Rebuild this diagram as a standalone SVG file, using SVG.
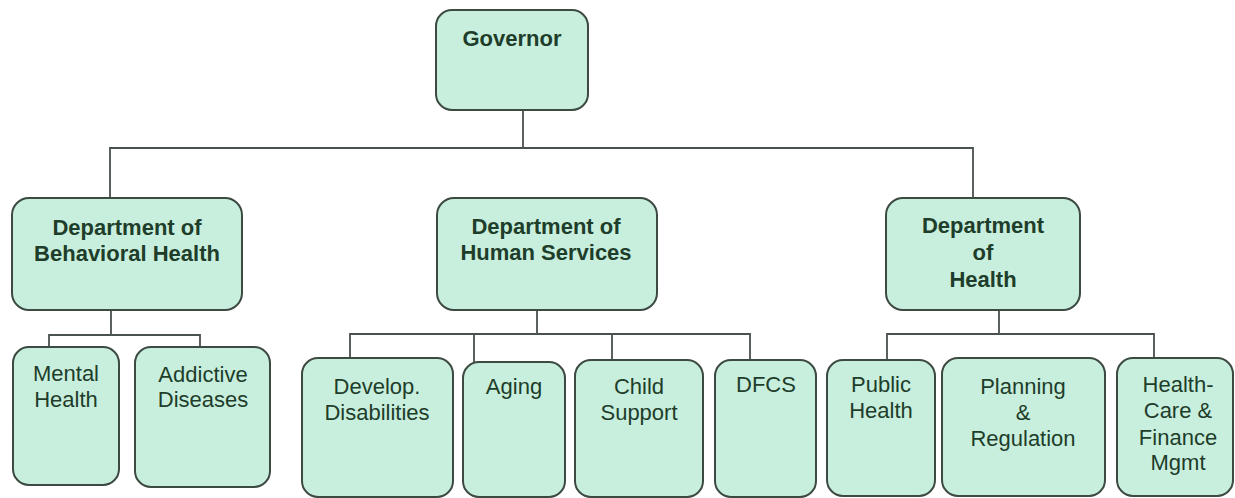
<svg xmlns="http://www.w3.org/2000/svg" width="1235" height="498" viewBox="0 0 1235 498">
<style>
.box{fill:#c8efdd;stroke:#3c4a42;stroke-width:2}
.ln{fill:none;stroke:#4a524d;stroke-width:1.8}
text{font-family:"Liberation Sans",Arial,sans-serif;font-size:22px;fill:#1e3d2a;text-anchor:middle}
.b{font-weight:bold}
</style>
<rect width="1235" height="498" fill="#ffffff"/>
<g id="connectors">
<path class="ln" d="M523,110 V148 M110,198 V148 H973 V198"/>
<path class="ln" d="M111,310 V335 M49,347 V335 H200 V347"/>
<path class="ln" d="M537,310 V334 M350,358 V334 H750 V360 M474,334 V362 M612,334 V360"/>
<path class="ln" d="M999,310 V334 M887,360 V334 H1154 V358"/>
</g>
<g id="governor"><rect class="box" x="436" y="10" width="152" height="100" rx="16"/><text class="b" x="512" y="46">Governor</text></g>
<g id="dbh"><rect class="box" x="12" y="198" width="230" height="112" rx="17"/><text class="b" x="127" y="235">Department of</text><text class="b" x="127" y="261">Behavioral Health</text></g>
<g id="dhs"><rect class="box" x="437" y="198" width="220" height="112" rx="17"/><text class="b" x="546" y="234">Department of</text><text class="b" x="546" y="260">Human Services</text></g>
<g id="doh"><rect class="box" x="886" y="198" width="194" height="112" rx="17"/><text class="b" x="983" y="233">Department</text><text class="b" x="983" y="260">of</text><text class="b" x="983" y="287">Health</text></g>
<g id="mental"><rect class="box" x="13" y="347" width="106" height="138" rx="16"/><text x="66" y="381">Mental</text><text x="66" y="407">Health</text></g>
<g id="addictive"><rect class="box" x="135" y="347" width="135" height="140" rx="16"/><text x="203" y="382">Addictive</text><text x="203" y="407">Diseases</text></g>
<g id="develop"><rect class="box" x="302" y="358" width="151" height="139" rx="16"/><text x="377" y="394">Develop.</text><text x="377" y="420">Disabilities</text></g>
<g id="aging"><rect class="box" x="463" y="362" width="102" height="135" rx="16"/><text x="514" y="394">Aging</text></g>
<g id="child"><rect class="box" x="575" y="360" width="128" height="137" rx="16"/><text x="639" y="394">Child</text><text x="639" y="420">Support</text></g>
<g id="dfcs"><rect class="box" x="715" y="360" width="101" height="137" rx="16"/><text x="766" y="392">DFCS</text></g>
<g id="public"><rect class="box" x="827" y="360" width="108" height="136" rx="16"/><text x="881" y="392">Public</text><text x="881" y="418">Health</text></g>
<g id="planning"><rect class="box" x="942" y="358" width="163" height="138" rx="16"/><text x="1023" y="394">Planning</text><text x="1023" y="420">&amp;</text><text x="1023" y="446">Regulation</text></g>
<g id="healthcare"><rect class="box" x="1117" y="358" width="116" height="138" rx="16"/><text x="1178" y="392">Health-</text><text x="1178" y="418">Care &amp;</text><text x="1178" y="445">Finance</text><text x="1178" y="470">Mgmt</text></g>
</svg>
